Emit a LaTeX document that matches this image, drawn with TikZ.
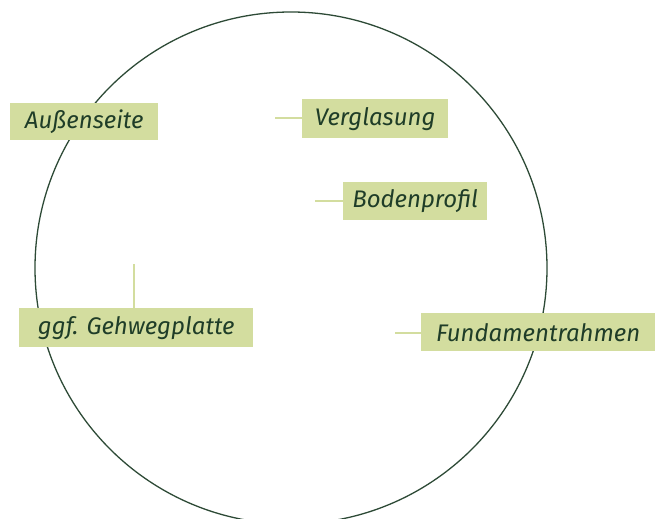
\documentclass[tikz,border=0pt]{standalone}
\usepackage{fontspec}
\setmainfont{Fira Sans}
\definecolor{boxgreen}{HTML}{D3DD9F}
\definecolor{leadgreen}{HTML}{D3DD9F}
\definecolor{ringgreen}{HTML}{2D4A36}
\definecolor{textgreen}{HTML}{1F3D28}
\begin{document}
\begin{tikzpicture}[x=1pt,y=-1pt,
  labelbox/.style={fill=boxgreen,draw=none,inner sep=0pt,anchor=north west,
    text=textgreen,font=\fontsize{24}{28}\selectfont\itshape},
  leader/.style={draw=leadgreen,line width=2pt}]
\useasboundingbox (0,0) rectangle (656,519);
\begin{scope}
\clip (0,0) rectangle (656,519);
\draw[ringgreen,line width=1.3pt] (291,268) circle (256);
\end{scope}
% boxes: (left,top) and size
\node[labelbox,minimum width=148pt,minimum height=37pt] (aus) at (10,103) {Außenseite};
\node[labelbox,minimum width=146pt,minimum height=39pt] (ver) at (302,99) {Verglasung};
\node[labelbox,minimum width=144pt,minimum height=38pt] (bod) at (343,182) {Bodenprofil};
\node[labelbox,minimum width=234pt,minimum height=39pt] (geh) at (19,308) {ggf. Gehwegplatte};
\node[labelbox,minimum width=234pt,minimum height=38pt] (fun) at (421,313) {Fundamentrahmen};
\coordinate (verL) at (275,118);
\coordinate (bodL) at (315,201);
\coordinate (gehL) at (134,264);
\coordinate (funL) at (395,333);
\draw[leader] (verL) -- (verL -| ver.west);
\draw[leader] (bodL) -- (bodL -| bod.west);
\draw[leader] (gehL) -- (gehL |- geh.north);
\draw[leader] (funL) -- (funL -| fun.west);
\end{tikzpicture}
\end{document}
